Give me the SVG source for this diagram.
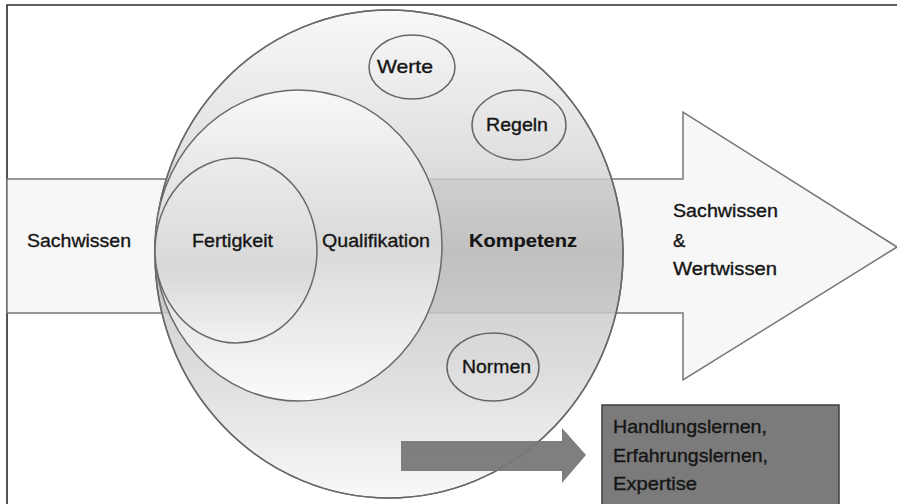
<svg xmlns="http://www.w3.org/2000/svg" width="897" height="504" viewBox="0 0 897 504">
  <style>
    .t { font-family: "Liberation Sans", Arial, sans-serif; font-size: 18.5px; fill: #151515; stroke: #151515; stroke-width: 0.35; }
    .b { font-weight: bold; stroke-width: 0.2; }
    .ring { stroke: #6a6a6a; stroke-width: 1.5; }
    .small { fill: none; stroke: #666666; stroke-width: 1.5; }
  </style>
  <defs>
    <linearGradient id="gBig" x1="0" y1="0" x2="0" y2="1">
      <stop offset="0" stop-color="#f8f8f8"/>
      <stop offset="0.25" stop-color="#e4e4e4"/>
      <stop offset="0.5" stop-color="#cbcbcb"/>
      <stop offset="0.75" stop-color="#dedede"/>
      <stop offset="1" stop-color="#f8f8f8"/>
    </linearGradient>
    <linearGradient id="gQual" x1="0" y1="0" x2="0" y2="1">
      <stop offset="0" stop-color="#f8f8f8"/>
      <stop offset="0.5" stop-color="#d9d9d9"/>
      <stop offset="1" stop-color="#fafafa"/>
    </linearGradient>
    <linearGradient id="gFert" x1="0" y1="0" x2="0" y2="1">
      <stop offset="0" stop-color="#ececec"/>
      <stop offset="0.6" stop-color="#d8d8d8"/>
      <stop offset="1" stop-color="#f2f2f2"/>
    </linearGradient>
    <clipPath id="clipBig">
      <ellipse cx="389" cy="254" rx="234" ry="244"/>
    </clipPath>
  </defs>

  <g id="frame">
    <path d="M7,504 V5 H897" fill="none" stroke="#2a2a2a" stroke-width="1.6"/>
  </g>

  <g id="main-arrow">
    <polygon points="7,179 683,179 683,112 897,247 683,380 683,313 7,313" fill="#f7f7f7" stroke="#777777" stroke-width="1.5"/>
    <text class="t" x="27" y="247" textLength="104" lengthAdjust="spacingAndGlyphs">Sachwissen</text>
    <text class="t" x="673" y="217" textLength="105" lengthAdjust="spacingAndGlyphs">Sachwissen</text>
    <text class="t" x="673" y="247">&amp;</text>
    <text class="t" x="673" y="275" textLength="104" lengthAdjust="spacingAndGlyphs">Wertwissen</text>
  </g>

  <g id="kompetenz">
    <ellipse class="ring" cx="389" cy="254" rx="234" ry="244" fill="url(#gBig)"/>
    <g clip-path="url(#clipBig)">
      <rect x="150" y="179" width="480" height="134" fill="#000" fill-opacity="0.05"/>
      <path d="M150,179 H630 M150,313 H630" stroke="#8a8a8a" stroke-opacity="0.35" stroke-width="1.2"/>
    </g>
    <ellipse class="ring" cx="389" cy="254" rx="234" ry="244" fill="none"/>
    <text class="t b" x="469" y="247" textLength="108" lengthAdjust="spacingAndGlyphs">Kompetenz</text>
  </g>

  <g id="qualifikation">
    <ellipse class="ring" cx="298.5" cy="245.5" rx="143.5" ry="155.5" fill="url(#gQual)"/>
    <text class="t" x="322" y="247" textLength="108" lengthAdjust="spacingAndGlyphs">Qualifikation</text>
  </g>

  <g id="fertigkeit">
    <ellipse class="ring" cx="236" cy="250.5" rx="81" ry="92.5" fill="url(#gFert)"/>
    <text class="t" x="192" y="247" textLength="81" lengthAdjust="spacingAndGlyphs">Fertigkeit</text>
  </g>

  <g id="werte">
    <ellipse class="small" cx="412" cy="67" rx="43" ry="32"/>
    <text class="t" x="377" y="73" textLength="56" lengthAdjust="spacingAndGlyphs">Werte</text>
  </g>

  <g id="regeln">
    <ellipse class="small" cx="519" cy="125" rx="47" ry="35"/>
    <text class="t" x="486" y="131" textLength="62" lengthAdjust="spacingAndGlyphs">Regeln</text>
  </g>

  <g id="normen">
    <ellipse class="small" cx="493" cy="367" rx="46" ry="34"/>
    <text class="t" x="462" y="373" textLength="69" lengthAdjust="spacingAndGlyphs">Normen</text>
  </g>

  <g id="connectors">
    <polygon points="401,441 562,441 562,428 586,455 562,483 562,471 401,471" fill="#787878" fill-opacity="0.95"/>
  </g>

  <g id="lernen">
    <rect x="602" y="405" width="237" height="100" fill="#7b7b7b" stroke="#3c3c3c" stroke-width="1.5"/>
    <text class="t" x="613" y="433" textLength="154" lengthAdjust="spacingAndGlyphs">Handlungslernen,</text>
    <text class="t" x="613" y="462" textLength="155" lengthAdjust="spacingAndGlyphs">Erfahrungslernen,</text>
    <text class="t" x="613" y="490" textLength="84" lengthAdjust="spacingAndGlyphs">Expertise</text>
  </g>
</svg>
